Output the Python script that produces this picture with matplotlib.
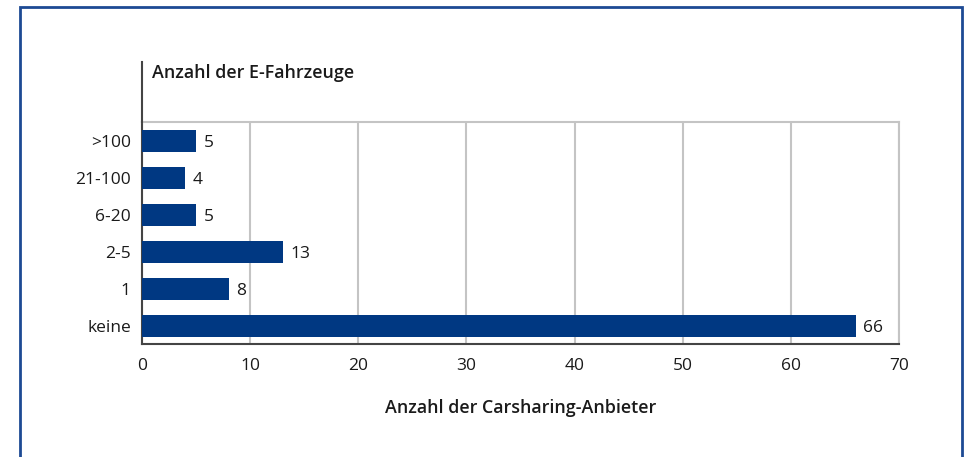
import matplotlib.pyplot as plt
from matplotlib.patches import Rectangle
from matplotlib.lines import Line2D

categories = ["keine", "1", "2-5", "6-20", "21-100", ">100"]
values = [66, 8, 13, 5, 4, 5]

plt.rcParams['font.family'] = ['Open Sans', 'DejaVu Sans']

fig = plt.figure(figsize=(9.67, 4.57), dpi=100)
ax = fig.add_axes([142/967, 1-344/457, (899-142)/967, (344-122)/457])

pos = range(len(categories))
ax.barh(pos, values, height=0.6, color="#003882", zorder=3)
for p, v in zip(pos, values):
    ax.text(v + 0.7, p, str(v), va="center_baseline", ha="left", fontsize=12.5, color="#1a1a1a")

ax.set_xlim(0, 70)
ax.set_ylim(-0.49, 5.51)
ax.set_xticks(range(0, 71, 10))
ax.set_yticks(list(pos))
ax.set_yticklabels(categories)
ax.tick_params(axis="both", length=0, labelsize=12.5, colors="#1a1a1a")
ax.tick_params(axis="x", pad=10)
ax.tick_params(axis="y", pad=8)
ax.grid(axis="x", color="#c4c4c4", linewidth=1.5, zorder=0)

for s in ["left", "bottom"]:
    ax.spines[s].set_color("#444444")
    ax.spines[s].set_linewidth(1.5)
for s in ["top", "right"]:
    ax.spines[s].set_color("#c4c4c4")
    ax.spines[s].set_linewidth(1.5)

ax.set_xlabel("Anzahl der Carsharing-Anbieter", fontsize=12.9, fontweight="semibold",
              labelpad=18, color="#1a1a1a")

# left axis line continues above the plot area, with the y-axis heading
fig.add_artist(Line2D([142/967, 142/967], [1-122/457, 1-62/457], color="#444444",
                      linewidth=1.5, transform=fig.transFigure))
fig.text(152/967, 1-73/457, "Anzahl der E-Fahrzeuge", fontsize=12.9, fontweight="semibold",
         va="center", ha="left", color="#1a1a1a")

# outer frame
fig.add_artist(Rectangle((20/967, -0.1), (962-20)/967, 1.1-7/457, fill=False,
                         edgecolor="#1d4a94", linewidth=2, transform=fig.transFigure))

fig.savefig("out.png", dpi=100)
